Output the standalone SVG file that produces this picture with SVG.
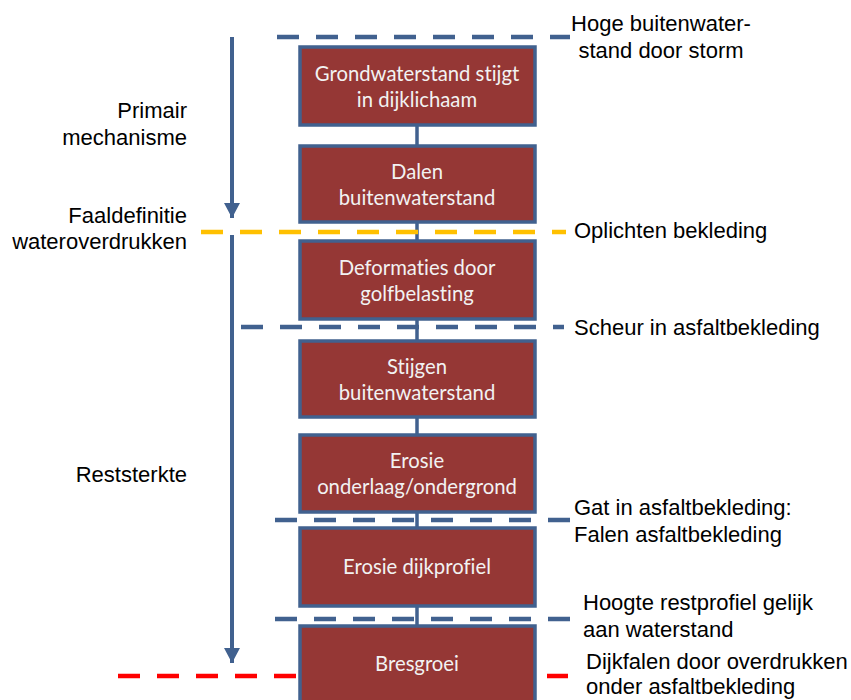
<svg xmlns="http://www.w3.org/2000/svg" width="851" height="700" viewBox="0 0 851 700">
<style>
.box{fill:#953735;stroke:#41618F;stroke-width:3.5}
.bt{font-family:Lato,"Open Sans",sans-serif;font-size:20.3px;fill:#F2F2F2;text-anchor:middle;font-variant-ligatures:none}
.lt{font-family:"Liberation Sans",Arial,sans-serif;font-size:22px;fill:#000}
.r{text-anchor:end}
.dash{fill:none;stroke-width:4.5;stroke-dasharray:22 17}
.blue{stroke:#41618F}
</style>
<defs>
<marker id="ah" viewBox="0 0 15 16" refX="15" refY="8" markerWidth="15" markerHeight="16" markerUnits="userSpaceOnUse" orient="auto">
<path d="M0,0 L15,8 L0,16 Z" fill="#41618F"/>
</marker>
</defs>
<rect width="851" height="700" fill="#fff"/>
<g id="connectors">
<line x1="417" y1="125" x2="417" y2="626" stroke="#41618F" stroke-width="3.5"/>
<line class="dash blue" x1="277" y1="37" x2="570" y2="37"/>
<line class="dash" stroke="#FFC000" x1="201" y1="232" x2="566" y2="232"/>
<line class="dash blue" x1="241" y1="327" x2="564" y2="327"/>
<line class="dash blue" x1="275" y1="520" x2="570" y2="520"/>
<line class="dash blue" x1="275" y1="619" x2="570" y2="619"/>
<line class="dash" stroke="#FF0000" x1="118" y1="676" x2="568" y2="676"/>
<line x1="232" y1="37" x2="232" y2="218" stroke="#41618F" stroke-width="4" marker-end="url(#ah)"/>
<line x1="232" y1="235" x2="232" y2="663" stroke="#41618F" stroke-width="4" marker-end="url(#ah)"/>
</g>
<g id="n1"><rect class="box" x="300" y="47" width="235" height="78"/><text class="bt" x="417" y="81">Grondwaterstand stijgt</text><text class="bt" x="417" y="107">in dijklichaam</text></g>
<g id="n2"><rect class="box" x="300" y="146" width="235" height="76"/><text class="bt" x="417" y="179">Dalen</text><text class="bt" x="417" y="205">buitenwaterstand</text></g>
<g id="n3"><rect class="box" x="300" y="241" width="235" height="78"/><text class="bt" x="417" y="275">Deformaties door</text><text class="bt" x="417" y="301">golfbelasting</text></g>
<g id="n4"><rect class="box" x="300" y="341" width="235" height="76"/><text class="bt" x="417" y="374">Stijgen</text><text class="bt" x="417" y="400">buitenwaterstand</text></g>
<g id="n5"><rect class="box" x="300" y="435" width="235" height="77"/><text class="bt" x="417" y="468">Erosie</text><text class="bt" x="417" y="494">onderlaag/ondergrond</text></g>
<g id="n6"><rect class="box" x="300" y="528" width="235" height="78"/><text class="bt" x="417" y="574">Erosie dijkprofiel</text></g>
<g id="n7"><rect class="box" x="300" y="626" width="235" height="90"/><text class="bt" x="417" y="671">Bresgroei</text></g>
<g id="labels">
<text class="lt r" x="187" y="118">Primair</text>
<text class="lt r" x="187" y="145">mechanisme</text>
<text class="lt r" x="187" y="223">Faaldefinitie</text>
<text class="lt r" x="187" y="249">wateroverdrukken</text>
<text class="lt r" x="187" y="482">Reststerkte</text>
<text class="lt" x="661" y="31" text-anchor="middle">Hoge buitenwater-</text>
<text class="lt" x="661" y="58" text-anchor="middle">stand door storm</text>
<text class="lt" x="574" y="238">Oplichten bekleding</text>
<text class="lt" x="574" y="335">Scheur in asfaltbekleding</text>
<text class="lt" x="574" y="515">Gat in asfaltbekleding:</text>
<text class="lt" x="574" y="542">Falen asfaltbekleding</text>
<text class="lt" x="583" y="610">Hoogte restprofiel gelijk</text>
<text class="lt" x="583" y="637">aan waterstand</text>
<text class="lt" x="586" y="669">Dijkfalen door overdrukken</text>
<text class="lt" x="586" y="694">onder asfaltbekleding</text>
</g>
</svg>
